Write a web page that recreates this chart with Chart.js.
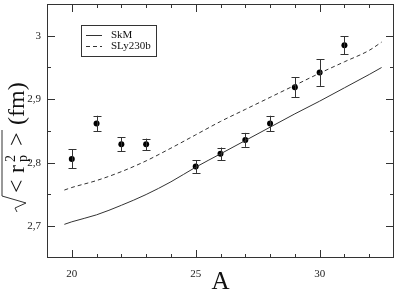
<!DOCTYPE html>
<html>
<head>
<meta charset="utf-8">
<script src="https://cdn.jsdelivr.net/npm/chart.js@4/dist/chart.umd.min.js"></script>
<style>
  body { margin: 0; background: #fff; }
  #box { width: 398px; height: 291px; }
</style>
</head>
<body>
<div id="box"><canvas id="grafico" width="398" height="291"></canvas></div>
<script>
// curvas teoricas
const skmA = [19.7, 20, 21, 22, 23, 24, 25, 26, 27, 28, 29, 30, 31, 32, 32.5];
const skmR = [2.703, 2.707, 2.718, 2.733, 2.750, 2.770, 2.793, 2.814, 2.835, 2.856, 2.877, 2.897, 2.918, 2.939, 2.950];
const slyA = [19.7, 20, 21, 22, 23, 24, 25, 26, 27, 28, 29, 30, 31, 32, 32.5];
const slyR = [2.757, 2.761, 2.772, 2.786, 2.803, 2.823, 2.844, 2.865, 2.884, 2.903, 2.922, 2.941, 2.959, 2.977, 2.990];

// pontos experimentais
const expA = [20, 21, 22, 23, 25, 26, 27, 28, 29, 30, 31];
const expR = [2.806, 2.862, 2.829, 2.829, 2.794, 2.814, 2.836, 2.862, 2.919, 2.942, 2.985];
const expErr = [0.015, 0.012, 0.011, 0.009, 0.010, 0.010, 0.011, 0.012, 0.016, 0.021, 0.014];

// eixos
const xMajor = [20, 25, 30];
const xMinor = [20, 21, 22, 23, 24, 26, 27, 28, 29, 31, 32];
const yMajor = [2.7, 2.8, 2.9, 3];
const yMinor = [2.75, 2.85, 2.95];
const yLabels = ["2,7", "2,8", "2,9", "3"];

const serif = "'Liberation Serif', 'DejaVu Serif', serif";
const cinza = "#333";

const pares = (xs, ys) => xs.map((x, i) => ({ x: x, y: ys[i] }));

const errosPlugin = {
  id: "erros",
  afterDatasetsDraw(chart) {
    const ctx = chart.ctx, x = chart.scales.x, y = chart.scales.y;
    ctx.save();
    ctx.strokeStyle = cinza;
    ctx.lineWidth = 1;
    expA.forEach((a, i) => {
      const px = Math.round(x.getPixelForValue(a)) + 0.5;
      const y1 = y.getPixelForValue(expR[i] + expErr[i]);
      const y2 = y.getPixelForValue(expR[i] - expErr[i]);
      ctx.beginPath();
      ctx.moveTo(px, y1); ctx.lineTo(px, y2);
      ctx.moveTo(px - 4, Math.round(y1) + 0.5); ctx.lineTo(px + 4, Math.round(y1) + 0.5);
      ctx.moveTo(px - 4, Math.round(y2) + 0.5); ctx.lineTo(px + 4, Math.round(y2) + 0.5);
      ctx.stroke();
    });
    ctx.restore();
  },
};

const molduraPlugin = {
  id: "moldura",
  afterDraw(chart) {
    const ctx = chart.ctx, a = chart.chartArea, x = chart.scales.x, y = chart.scales.y;
    ctx.save();
    ctx.strokeStyle = cinza;
    ctx.lineWidth = 1;
    ctx.strokeRect(a.left + 0.5, a.top + 0.5, a.right - a.left - 1, a.bottom - a.top - 1);
    ctx.beginPath();
    const tx = (v, len) => {
      const p = Math.round(x.getPixelForValue(v)) + 0.5;
      ctx.moveTo(p, a.bottom); ctx.lineTo(p, a.bottom - len);
      ctx.moveTo(p, a.top); ctx.lineTo(p, a.top + len);
    };
    const ty = (v, len) => {
      const p = Math.round(y.getPixelForValue(v)) + 0.5;
      ctx.moveTo(a.left, p); ctx.lineTo(a.left + len, p);
      ctx.moveTo(a.right, p); ctx.lineTo(a.right - len, p);
    };
    xMajor.forEach(v => tx(v, 8));
    xMinor.filter(v => !xMajor.includes(v)).forEach(v => tx(v, 4));
    yMajor.forEach(v => ty(v, 8));
    yMinor.forEach(v => ty(v, 4));
    ctx.stroke();

    // legenda
    ctx.strokeRect(81.5, 25.5, 75, 31);
    ctx.font = "11px " + serif;
    ctx.fillStyle = "#111";
    ctx.textBaseline = "middle";
    [0, 1].forEach(i => {
      const ds = chart.data.datasets[i];
      const ly = i === 0 ? 35.5 : 46.5;
      ctx.setLineDash(ds.borderDash || []);
      ctx.beginPath();
      ctx.moveTo(86, ly); ctx.lineTo(102, ly);
      ctx.stroke();
      ctx.setLineDash([]);
      ctx.fillText(ds.label, 111, ly);
    });

    // titulo x
    ctx.font = "25px " + serif;
    ctx.textAlign = "center";
    ctx.textBaseline = "alphabetic";
    ctx.fillText("A", (a.left + a.right) / 2, 289);

    // titulo y com raiz
    ctx.translate(13, 212);
    ctx.rotate(-Math.PI / 2);
    ctx.textAlign = "left";
    const b = 11;
    ctx.beginPath();
    ctx.moveTo(0, b - 7); ctx.lineTo(4, b - 9);
    ctx.lineTo(9, b + 2); ctx.lineTo(16, b - 22);
    ctx.lineTo(82, b - 22);
    ctx.stroke();
    ctx.font = "24px " + serif;
    ctx.fillText("<", 19, b);
    ctx.fillText("r", 39, b);
    ctx.font = "14px " + serif;
    ctx.fillText("2", 50, b - 9);
    ctx.fillText("p", 50, b + 3);
    ctx.font = "24px " + serif;
    ctx.fillText(">", 66, b);
    ctx.fillText("(fm)", 87, b);
    ctx.restore();
  },
};

new Chart(document.getElementById("grafico"), {
  type: "scatter",
  data: {
    datasets: [
      { label: "SkM", data: pares(skmA, skmR), showLine: true, borderColor: cinza, borderWidth: 1, pointRadius: 0, cubicInterpolationMode: "monotone" },
      { label: "SLy230b", data: pares(slyA, slyR), showLine: true, borderColor: cinza, borderWidth: 1, borderDash: [4, 3], pointRadius: 0, cubicInterpolationMode: "monotone" },
      { label: "exp", data: pares(expA, expR), showLine: false, pointRadius: 3, backgroundColor: "#000", borderColor: "#000", borderWidth: 0 },
    ],
  },
  options: {
    responsive: false,
    animation: false,
    layout: { padding: { top: -2, right: -2, left: 0, bottom: 0 } },
    plugins: { legend: { display: false }, tooltip: { enabled: false } },
    scales: {
      x: {
        type: "linear", min: 19, max: 33,
        grid: { display: false, drawTicks: false }, border: { display: false },
        afterFit: s => { s.height = 33; s.paddingLeft = 0; s.paddingRight = 0; },
        afterBuildTicks: s => { s.ticks = xMajor.map(v => ({ value: v })); },
        ticks: { padding: 10, color: "#222", font: { family: serif, size: 11 } },
      },
      y: {
        type: "linear", min: 2.65, max: 3.05,
        grid: { display: false, drawTicks: false }, border: { display: false },
        afterFit: s => { s.width = 47; s.paddingTop = 0; s.paddingBottom = 0; },
        afterBuildTicks: s => { s.ticks = yMajor.map(v => ({ value: v })); },
        ticks: {
          padding: 6, color: "#222", font: { family: serif, size: 11 },
          callback: v => yLabels[yMajor.findIndex(m => Math.abs(m - v) < 1e-6)],
        },
      },
    },
  },
  plugins: [errosPlugin, molduraPlugin],
});
</script>
</body>
</html>
